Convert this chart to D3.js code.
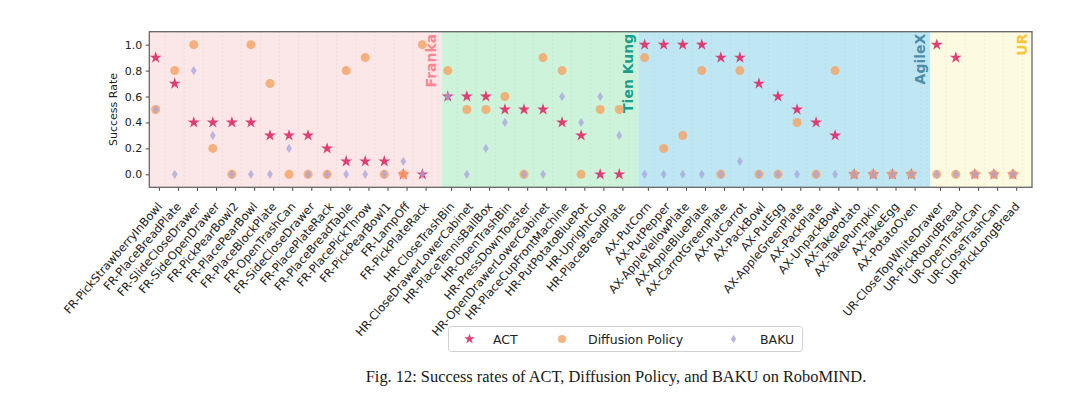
<!DOCTYPE html>
<html>
<head>
<meta charset="utf-8">
<script src="https://cdn.jsdelivr.net/npm/d3@7/dist/d3.min.js"></script>
<style>
  body { margin: 0; background: #fff; }
  .chart-text { font-family: "DejaVu Sans", sans-serif; }
</style>
</head>
<body>
<svg id="chart" width="1080" height="397"></svg>
<script>
// task names, in plotting order
const tasks = [
  "FR-PickStrawberryInBowl", "FR-PlaceBreadPlate", "FR-SlideCloseDrawer", "FR-SideOpenDrawer", "FR-PickPearBowl2",
  "FR-PlacePearBowl", "FR-PlaceBlockPlate", "FR-OpenTrashCan", "FR-SideCloseDrawer", "FR-PlacePlateRack",
  "FR-PlaceBreadTable", "FR-PlacePickThrow", "FR-PickPearBowl1", "FR-LampOff", "FR-PickPlateRack",
  "HR-CloseTrashBin", "HR-CloseDrawerLowerCabinet", "HR-PlaceTennisBallBox", "HR-OpenTrashBin", "HR-PressDownToaster",
  "HR-OpenDrawerLowerCabinet", "HR-PlaceCupFrontMachine", "HR-PutPotatoBluePot", "HR-UprightCup", "HR-PlaceBreadPlate",
  "AX-PutCorn", "AX-PutPepper", "AX-AppleYellowPlate", "AX-AppleBluePlate", "AX-CarrotGreenPlate",
  "AX-PutCarrot", "AX-PackBowl", "AX-PutEgg", "AX-AppleGreenPlate", "AX-PackPlate",
  "AX-UnpackBowl", "AX-TakePotato", "AX-TakePumpkin", "AX-TakeEgg", "AX-PotatoOven",
  "UR-CloseTopWhiteDrawer", "UR-PickRoundBread", "UR-OpenTrashCan", "UR-CloseTrashCan", "UR-PickLongBread"
];

const actRates = [
  0.9, 0.7, 0.4, 0.4, 0.4, 0.4, 0.3, 0.3, 0.3, 0.2, 0.1, 0.1, 0.1, 0.0, 0.0,
  0.6, 0.6, 0.6, 0.5, 0.5, 0.5, 0.4, 0.3, 0.0, 0.0,
  1.0, 1.0, 1.0, 1.0, 0.9, 0.9, 0.7, 0.6, 0.5, 0.4, 0.3, 0.0, 0.0, 0.0, 0.0,
  1.0, 0.9, 0.0, 0.0, 0.0
];
const dpRates = [
  0.5, 0.8, 1.0, 0.2, 0.0, 1.0, 0.7, 0.0, 0.0, 0.0, 0.8, 0.9, 0.0, 0.0, 1.0,
  0.8, 0.5, 0.5, 0.6, 0.0, 0.9, 0.8, 0.0, 0.5, 0.5,
  0.9, 0.2, 0.3, 0.8, 0.0, 0.8, 0.0, 0.0, 0.4, 0.0, 0.8, 0.0, 0.0, 0.0, 0.0,
  0.0, 0.0, 0.0, 0.0, 0.0
];
const bakuRates = [
  0.5, 0.0, 0.8, 0.3, 0.0, 0.0, 0.0, 0.2, 0.0, 0.0, 0.0, 0.0, 0.0, 0.1, 0.0,
  0.6, 0.0, 0.2, 0.4, 0.0, 0.0, 0.6, 0.4, 0.6, 0.3,
  0.0, 0.0, 0.0, 0.0, 0.0, 0.1, 0.0, 0.0, 0.0, 0.0, 0.0, 0.0, 0.0, 0.0, 0.0,
  0.0, 0.0, 0.0, 0.0, 0.0
];

// robot groups
const robotNames = ["Franka", "Tien Kung", "AgileX", "UR"];
const robotSizes = [15, 10, 15, 5];
const robotFills = ["#fbe7e7", "#cef3db", "#bee7f3", "#fcfbe2"];
const robotLabelColors = ["#ff8590", "#17a08c", "#4d8ea8", "#f7c640"];

const yTicks = [0.0, 0.2, 0.4, 0.6, 0.8, 1.0];

const seriesNames = ["ACT", "Diffusion Policy", "BAKU"];
const seriesColors = ["#e0336f", "#f5a263", "#a8a3dc"];

const svg = d3.select("#chart");
const plot = { left: 149.3, right: 1032, top: 31.7, bottom: 187.3 };

// marker position: index plus a third of a slot per robot group
const groupOf = [];
robotSizes.forEach((n, g) => { for (let k = 0; k < n; k++) groupOf.push(g); });
const pos = tasks.map((t, i) => i + groupOf[i] / 3);
const tickShift = 0.17;

const x = d3.scaleLinear().domain([-1 / 3, d3.max(pos) + 1]).range([plot.left, plot.right]);
const y = d3.scaleLinear().domain([-0.1, 1.1]).range([plot.bottom, plot.top]);

// background spans for each robot
let start = 0;
const spans = robotSizes.map((n, g) => {
  const s = { g: g, x0: pos[start] - 1 / 3, x1: pos[start + n - 1] + 1 };
  start += n;
  return s;
});

svg.append("g").selectAll("rect")
  .data(spans)
  .enter()
  .append("rect")
  .attr("x", d => x(d.x0))
  .attr("y", plot.top)
  .attr("width", d => x(d.x1) - x(d.x0))
  .attr("height", plot.bottom - plot.top)
  .attr("fill", d => robotFills[d.g]);

// dotted vertical grid between markers
const gridPos = Array.from(new Set(pos.flatMap(p => [p - 0.5, p + 0.5]).map(v => v.toFixed(3)))).map(Number);
svg.append("g").selectAll("line")
  .data(gridPos.filter(v => v > x.domain()[0] && v < x.domain()[1]))
  .enter()
  .append("line")
  .attr("x1", d => x(d)).attr("x2", d => x(d))
  .attr("y1", plot.top).attr("y2", plot.bottom)
  .attr("stroke", "#9aa0a6")
  .attr("stroke-opacity", 0.35)
  .attr("stroke-width", 0.8)
  .attr("stroke-dasharray", "1,3");

// robot labels, vertical, at the right edge of each span
svg.append("g").selectAll("text")
  .data(spans)
  .enter()
  .append("text")
  .attr("class", "chart-text")
  .attr("transform", d => `translate(${x(d.x1) - 5.5},${plot.top + 2}) rotate(-90)`)
  .attr("text-anchor", "end")
  .attr("font-size", 14)
  .attr("font-weight", "bold")
  .attr("fill", d => robotLabelColors[d.g])
  .text(d => robotNames[d.g]);

// axes
const xAxis = d3.axisBottom(x)
  .tickValues(pos.map(p => p + tickShift))
  .tickSize(3.5)
  .tickFormat((d, i) => tasks[i]);

const gx = svg.append("g")
  .attr("transform", `translate(0,${plot.bottom})`)
  .call(xAxis);
gx.select(".domain").remove();
gx.selectAll(".tick line").attr("stroke", "#444");
gx.selectAll(".tick text")
  .attr("class", "chart-text")
  .attr("font-size", 11.5)
  .attr("fill", "#222")
  .attr("text-anchor", "end")
  .attr("dy", null)
  .attr("y", null)
  .attr("transform", "translate(3.5,19.5) rotate(-49)");

const gy = svg.append("g")
  .attr("transform", `translate(${plot.left},0)`)
  .call(d3.axisLeft(y).tickValues(yTicks).tickSize(3.5).tickPadding(3.5).tickFormat(d3.format(".1f")));
gy.select(".domain").remove();
gy.selectAll(".tick line").attr("stroke", "#444");
gy.selectAll(".tick text").attr("class", "chart-text").attr("font-size", 11).attr("fill", "#222");

svg.append("text")
  .attr("class", "chart-text")
  .attr("transform", `translate(117,${(plot.top + plot.bottom) / 2}) rotate(-90)`)
  .attr("text-anchor", "middle")
  .attr("font-size", 11)
  .attr("fill", "#222")
  .text("Success Rate");

// markers: ACT first, then Diffusion Policy and BAKU over it with alpha
const star = d3.symbol().type(d3.symbolStar).size(44);
const circle = d3.symbol().type(d3.symbolCircle).size(64);
const diamond = "M0,-4.6L2.9,0L0,4.6L-2.9,0Z";

const marks = svg.append("g");
marks.selectAll(".act")
  .data(actRates)
  .enter()
  .append("path")
  .attr("class", "act")
  .attr("d", star)
  .attr("transform", (d, i) => `translate(${x(pos[i])},${y(d)})`)
  .attr("fill", seriesColors[0])
  .attr("fill-opacity", 0.95);

marks.selectAll(".dp")
  .data(dpRates)
  .enter()
  .append("path")
  .attr("class", "dp")
  .attr("d", circle)
  .attr("transform", (d, i) => `translate(${x(pos[i])},${y(d)})`)
  .attr("fill", seriesColors[1])
  .attr("fill-opacity", 0.8);

marks.selectAll(".baku")
  .data(bakuRates)
  .enter()
  .append("path")
  .attr("class", "baku")
  .attr("d", diamond)
  .attr("transform", (d, i) => `translate(${x(pos[i])},${y(d)})`)
  .attr("fill", seriesColors[2])
  .attr("fill-opacity", 0.75);

// frame
svg.append("rect")
  .attr("x", plot.left).attr("y", plot.top)
  .attr("width", plot.right - plot.left).attr("height", plot.bottom - plot.top)
  .attr("fill", "none")
  .attr("stroke", "#666")
  .attr("stroke-width", 1.3);

// legend
const legend = svg.append("g");
legend.append("rect")
  .attr("x", 448.5).attr("y", 326.5)
  .attr("width", 354).attr("height", 25)
  .attr("rx", 3)
  .attr("fill", "#fff")
  .attr("stroke", "#d0d0d0");

const legendSymbols = [
  d3.symbol().type(d3.symbolStar).size(34)(),
  d3.symbol().type(d3.symbolCircle).size(52)(),
  "M0,-4.2L2.6,0L0,4.2L-2.6,0Z"
];
const legendSymX = [469.5, 562, 733.5];
const legendTextX = [493, 588, 760];
seriesNames.forEach((name, k) => {
  legend.append("path")
    .attr("d", legendSymbols[k])
    .attr("transform", `translate(${legendSymX[k]},339)`)
    .attr("fill", seriesColors[k])
    .attr("fill-opacity", k === 0 ? 0.95 : 0.8);
  legend.append("text")
    .attr("class", "chart-text")
    .attr("x", legendTextX[k]).attr("y", 343.5)
    .attr("font-size", 12.5)
    .attr("fill", "#222")
    .text(name);
});

// caption
svg.append("text")
  .attr("x", 616).attr("y", 382)
  .attr("text-anchor", "middle")
  .style("font-family", "'Liberation Serif', 'Times New Roman', serif")
  .attr("font-size", 16.4)
  .attr("fill", "#1a1a1a")
  .text("Fig. 12: Success rates of ACT, Diffusion Policy, and BAKU on RoboMIND.");
</script>
</body>
</html>
